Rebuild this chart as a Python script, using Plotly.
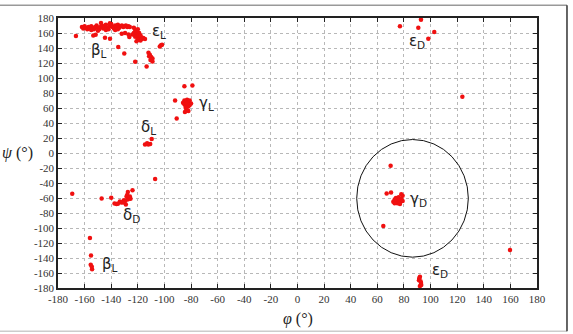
import plotly.graph_objects as go

# Ramachandran-like phi/psi data (degrees)
phi = [
    # beta_L band near psi ~ 168
    -162, -161, -160, -159, -158, -157, -156, -155, -154, -153, -152, -151, -150, -149, -148,
    -147, -146, -145, -144, -143, -142, -141, -140, -139, -138, -137, -136, -135, -134, -133,
    -132, -131, -130, -129, -128, -127, -126, -147.7, -140, -144, -137, -141, -150, -135, -155,
    -166.5, -153.5, -151.7, -144.7, -140.9, -132.1, -129.6, -127, -134.7, -130.2,
    # epsilon_L cluster
    -123, -122, -121, -123, -121, -120, -122, -119, -120, -118, -121, -117, -119, -124, -118,
    -120, -126.4, -115.9, -114.6, -102.6, -103.5, -101.8, -122, -112,
    -111, -110, -109, -110.5, -109, -111.5, -113.4,
    # gamma_L
    -85, -83, -81, -86, -84, -82, -80, -85, -83, -81, -84, -82, -83, -84, -83, -84.6, -82,
    -92, -85, -79, -90.8,
    # delta_L
    -114.6, -112.1, -110.7, -109.6, -113, -107,
    # delta_D
    -169.3, -147.2, -140, -137.5, -135, -132.5, -130.5, -128.5, -127.5, -124, -129.6, -127.7,
    -126.5, -125.5, -129, -133.5, -131, -128, -126, -136,
    # beta_L lower
    -156, -155.2, -155.4, -154.4, -154.6,
    # epsilon_D top
    92.8, 77, 90.8, 102.8, 98.3, 123.9,
    # gamma_D
    70, 67, 70.3, 74, 76, 78, 79, 78, 76, 74, 72, 75, 77, 79, 73, 77, 73, 64.5,
    159.7,
    # epsilon_D bottom
    92, 91.3, 92.8, 92, 91.5, 92.5, 93,
]
psi = [
    168, 166, 169, 167, 165, 168, 166, 169, 167, 165, 168, 170, 167, 165, 168,
    170, 166, 169, 171, 167, 165, 169, 172, 168, 166, 170, 168, 171, 167, 169,
    170, 168, 169, 170, 168, 169, 168, 173.4, 171, 164, 164, 173, 163, 165, 164,
    156, 156.8, 157.7, 153.7, 152.4, 159, 160, 158, 141.5, 132.7,
    167, 164, 162, 160, 158, 156, 155, 153, 151, 150, 149, 152, 160, 158, 157,
    165, 154.6, 153.3, 152, 143.6, 142, 144.5, 121.8, 133.6,
    131, 128, 126, 124, 122, 129, 115.2,
    70, 71, 70, 67, 68, 67, 66, 65, 64, 64, 62, 62, 66, 60, 57, 54.8, 56,
    70, 89, 90, 46,
    11.4, 11.4, 12, 18.8, 13, -34.6,
    -54.3, -60.5, -59.5, -67.4, -67.5, -66, -63, -58, -52, -49.5, -64, -62,
    -60.5, -61, -68.5, -64.5, -66, -56, -58, -68,
    -113.4, -136.7, -148.9, -155, -151.5,
    177.8, 169, 166.9, 161.2, 152.4, 74.9,
    -17.1, -54, -52.5, -60, -59, -55, -57, -61, -63, -64, -65, -67, -66, -64, -62, -68, -67, -97.3,
    -129.2,
    -165, -169.5, -173.4, -177.4, -167, -171, -176,
]

# region labels
label_text = ["β<sub>L</sub>", "ε<sub>L</sub>", "γ<sub>L</sub>", "δ<sub>L</sub>", "δ<sub>D</sub>",
              "β<sub>L</sub>", "ε<sub>D</sub>", "γ<sub>D</sub>", "ε<sub>D</sub>"]
label_phi = [-149, -104, -68.5, -112, -125, -141, 90, 91, -106]
label_phi[8] = 107
label_psi = [137, 162, 66, 34, -83, -148.5, 148.5, -62, -156]

# circled gamma_D region
circle_phi = [44.5, 128.4]
circle_psi = [-138.9, 18]

ticks = list(range(-180, 181, 20))

fig = go.Figure()
fig.add_trace(go.Scatter(
    x=phi, y=psi, mode="markers",
    marker=dict(color="#f01010", size=4.5, line=dict(width=0)),
    showlegend=False, hoverinfo="x+y",
))

for t, x, y in zip(label_text, label_phi, label_psi):
    fig.add_annotation(x=x, y=y, text=t, showarrow=False,
                       font=dict(family="DejaVu Sans", size=15, color="#222"))

fig.add_shape(type="circle", xref="x", yref="y",
              x0=circle_phi[0], x1=circle_phi[1], y0=circle_psi[0], y1=circle_psi[1],
              line=dict(color="#111", width=1))

# outer frame
fig.add_shape(type="line", xref="paper", yref="paper", x0=-0.125, x1=1.0626, y0=1.047, y1=1.047,
              line=dict(color="#999", width=1.5))
fig.add_shape(type="line", xref="paper", yref="paper", x0=-0.125, x1=1.0626, y0=-0.1606, y1=-0.1606,
              line=dict(color="#ccc", width=1.5))
fig.add_shape(type="line", xref="paper", yref="paper", x0=1.0626, x1=1.0626, y0=-0.1606, y1=1.047,
              line=dict(color="#333", width=1.5))

axis_common = dict(
    range=[-180, 180], tickvals=ticks, ticktext=[str(v) for v in ticks],
    showgrid=True, gridcolor="#b8b8b8", griddash="dot", gridwidth=1,
    zeroline=False, showline=True, linecolor="#222", linewidth=1.5, mirror="ticks",
    ticks="inside", ticklen=4, tickcolor="#222",
    tickfont=dict(family="Liberation Serif", size=11, color="#333"),
)

fig.update_xaxes(**axis_common)
fig.update_yaxes(**axis_common)

fig.add_annotation(xref="paper", yref="paper", x=0.5, y=-0.115, text="<i>φ</i> (°)", showarrow=False,
                   font=dict(family="Liberation Serif", size=16, color="#222"), yanchor="middle")
fig.add_annotation(xref="paper", yref="paper", x=-0.085, y=0.5, text="<i>ψ</i> (°)", showarrow=False,
                   font=dict(family="Liberation Serif", size=16, color="#222"), xanchor="center")

fig.update_layout(
    width=573, height=334,
    margin=dict(l=58, r=36, t=14, b=46),
    plot_bgcolor="white", paper_bgcolor="white",
)

fig.write_html("out.html")
